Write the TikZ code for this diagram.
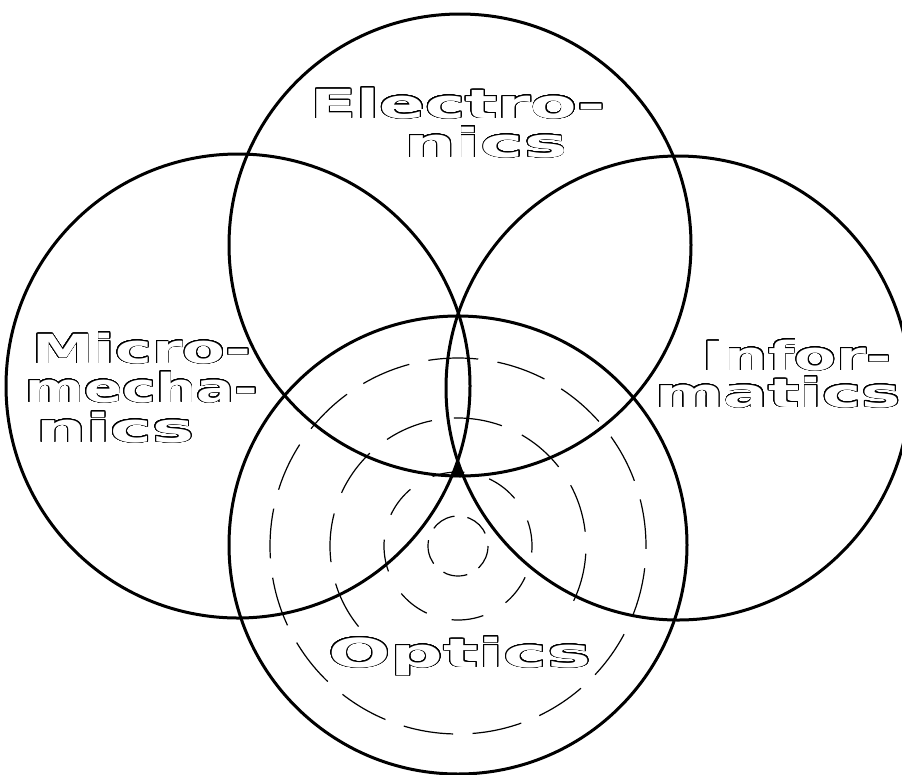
\documentclass[tikz,border=0pt]{standalone}
\usepackage{fontspec}
\usepackage{graphicx}
\usepackage[copies]{contour}
\newfontfamily\fieldfont[FakeStretch=1.6]{DejaVu Sans}
\contourlength{0.8pt}
\contournumber{32}
\newcommand{\hollow}[2][1]{\scalebox{#1}[1]{\textcolor{white}{\contour{black}{#2}}}}
\tikzset{
  ring/.style={draw, line width=3pt},
  wave/.style={draw, line width=1.2pt},
  field/.style={inner sep=0pt, anchor=base west,
    font=\fieldfont\bfseries\fontsize{40}{40}\selectfont},
}

\begin{document}
\begin{tikzpicture}[x=1pt,y=-1pt]
\useasboundingbox (0,0) rectangle (902,774);
\clip (0,0) rectangle (902,774);
% centres of the four fields
\coordinate (E) at (460,245);
\coordinate (M) at (238,386);
\coordinate (I) at (678,388);
\coordinate (O) at (458,545);
\coordinate (W) at (458,546);
% waves round the optics centre
\draw[wave, dash pattern=on 24.6pt off 13.1pt] (W) circle[radius=30];
\draw[wave, dash pattern=on 32.3pt off 25.8pt, dash phase=25.8pt] (W) circle[radius=74];
\draw[wave, dash pattern=on 49pt off 22pt] (W) ++(141:128) arc[start angle=141, end angle=389, radius=128];
\draw[wave, dash pattern=on 50pt off 19.5pt, dash phase=47.2pt] (W) circle[radius=188];
% the four fields
\draw[ring] (E) circle[radius=231];
\draw[ring] (M) circle[radius=232];
\draw[ring] (I) circle[radius=232];
\draw[ring] (O) circle[radius=229];
\fill (458,459) -- (451,477) -- (465,477) -- cycle;
% labels
\node[field] (elec1) at (310,118) {\hollow[1.055]{Electro-}};
\node[field] (elec2) at (404,157) {\hollow[1.136]{nics}};
\node[field] (mech1) at (32,363) {\hollow[0.97]{Micro-}};
\node[field] (mech2) at (25,402) {\hollow[0.884]{mecha-}};
\node[field] (mech3) at (36,442) {\hollow[1.10]{nics}};
\node[field] (info1) at (702,370) {\hollow[0.95]{Infor-}};
\node[field] (info2) at (655,407) {\hollow[1.03]{matics}};
\node[field] (opt) at (328,667) {\hollow[1.15]{Optics}};
\end{tikzpicture}
\end{document}
